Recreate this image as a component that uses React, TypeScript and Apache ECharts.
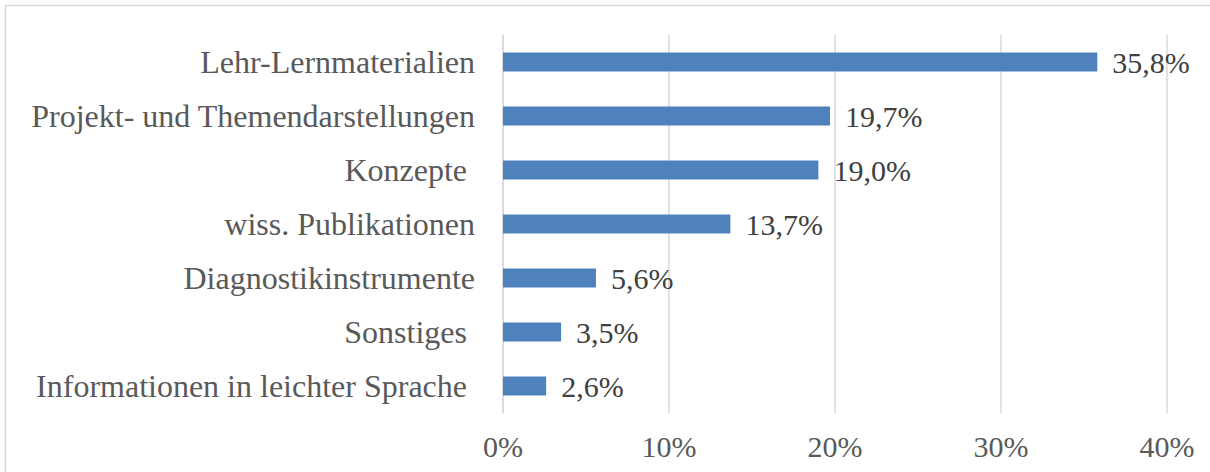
import React, { useEffect, useRef } from "react";
import * as echarts from "echarts";

const categories = [
  "Lehr-Lernmaterialien",
  "Projekt- und Themendarstellungen",
  "Konzepte ",
  "wiss. Publikationen",
  "Diagnostikinstrumente",
  "Sonstiges ",
  "Informationen in leichter Sprache ",
];
const values = [35.8, 19.7, 19.0, 13.7, 5.6, 3.5, 2.6];
const xTicks = [0, 10, 20, 30, 40];

const FONT = "'Liberation Serif', 'Times New Roman', serif";

export default function App() {
  const ref = useRef<HTMLDivElement>(null);
  useEffect(() => {
    if (!ref.current) return;
    const chart = echarts.init(ref.current, null, { renderer: "svg" });
    chart.setOption({
      animation: false,
      backgroundColor: "#ffffff",
      graphic: [
        {
          type: "rect",
          shape: { x: 5.5, y: 5.5, width: 1220, height: 480 },
          style: { fill: "none", stroke: "#d9d9d9", lineWidth: 1.5 },
          silent: true,
        },
      ],
      grid: { left: 503, right: 43, top: 35, bottom: 59, containLabel: false },
      xAxis: {
        type: "value",
        min: 0,
        max: 40,
        interval: 10,
        axisLine: { show: false },
        axisTick: { show: false },
        splitLine: { show: true, lineStyle: { color: "#d9d9d9", width: 1.5 } },
        axisLabel: {
          formatter: (v: number) => (xTicks.includes(v) ? `${v}%` : ""),
          color: "#595959",
          fontFamily: FONT,
          fontSize: 30,
          margin: 18,
        },
      },
      yAxis: {
        type: "category",
        data: categories,
        inverse: true,
        axisLine: { show: true, lineStyle: { color: "#d9d9d9", width: 1.5 } },
        axisTick: { show: false },
        axisLabel: {
          color: "#595959",
          fontFamily: FONT,
          fontSize: 32,
          margin: 28,
        },
      },
      series: [
        {
          type: "bar",
          data: values,
          barWidth: 19,
          itemStyle: { color: "#4f81bd" },
          label: {
            show: true,
            position: "right",
            distance: 15,
            formatter: (p: any) => `${p.value.toFixed(1).replace(".", ",")}%`,
            color: "#404040",
            fontFamily: FONT,
            fontSize: 30,
          },
        },
      ],
    });
    return () => chart.dispose();
  }, []);
  return (
    <div
      ref={ref}
      style={{ position: "absolute", left: 0, top: 0, width: 1210, height: 472 }}
    />
  );
}
